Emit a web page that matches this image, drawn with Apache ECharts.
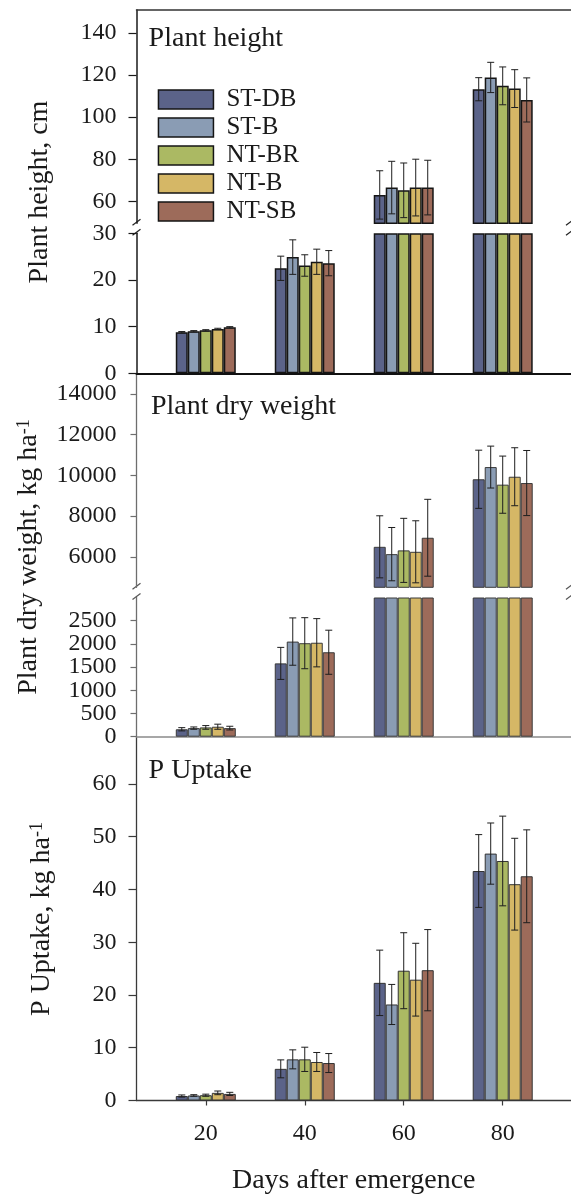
<!DOCTYPE html>
<html><head><meta charset="utf-8">
<script src="https://cdn.jsdelivr.net/npm/echarts@6.0.0/dist/echarts.min.js"></script>
<style>html,body{margin:0;padding:0;background:#fff}#c{width:571px;height:1195px}</style>
</head><body><div id="c"></div>
<script>
// ---------------- data ----------------
const days = [20, 40, 60, 80];
const treatments = ['ST-DB', 'ST-B', 'NT-BR', 'NT-B', 'NT-SB'];
const colors = ['#5b6389', '#8a9cb4', '#abb963', '#d5b766', '#9d6b5a'];

// Plant height, cm (rows: treatments, cols: days)
const heightMean = [
  [8.8, 22.5, 63.0, 113.3],
  [9.0, 24.9, 66.5, 118.9],
  [9.2, 23.1, 65.2, 114.9],
  [9.5, 23.9, 66.5, 113.6],
  [9.85, 23.6, 66.5, 108.2]
];
const heightErr = [
  [0.15, 2.6, 11.5, 5.5],
  [0.15, 3.7, 12.5, 7.2],
  [0.15, 2.3, 13.0, 9.0],
  [0.15, 2.7, 13.5, 9.0],
  [0.15, 2.7, 13.0, 10.5]
];
// Plant dry weight, kg/ha
const weightMean = [
  [160, 1580, 6490, 9810],
  [185, 2050, 6130, 10410],
  [200, 2015, 6315, 9545],
  [215, 2025, 6245, 9935],
  [185, 1820, 6935, 9625]
];
const weightErr = [
  [35, 345, 1525, 1430],
  [25, 510, 1310, 1030],
  [40, 550, 1575, 1405],
  [55, 520, 1525, 1425],
  [40, 475, 1890, 1600]
];
// P uptake, kg/ha
const uptakeMean = [
  [0.85, 6.0, 22.3, 43.5],
  [0.95, 7.8, 18.2, 46.8],
  [1.0, 7.8, 24.6, 45.4],
  [1.45, 7.3, 22.9, 41.0],
  [1.25, 7.1, 24.7, 42.5]
];
const uptakeErr = [
  [0.2, 1.7, 6.2, 6.9],
  [0.15, 1.8, 3.8, 5.8],
  [0.2, 2.3, 7.2, 8.5],
  [0.35, 1.8, 6.9, 8.7],
  [0.3, 1.8, 7.7, 8.8]
];

// tick labels
const heightUpperTicks = [60, 80, 100, 120, 140];
const heightLowerTicks = [0, 10, 20, 30];
const weightUpperTicks = [6000, 8000, 10000, 12000, 14000];
const weightLowerTicks = [0, 500, 1000, 1500, 2000, 2500];
const uptakeTicks = [0, 10, 20, 30, 40, 50, 60];
const dayTicks = [20, 40, 60, 80];

const panelTitles = ['Plant height', 'Plant dry weight', 'P Uptake'];
const xName = 'Days after emergence';

// ---------------- layout / style ----------------
const FONT = '"Liberation Serif", "Times New Roman", serif';
const INK = '#1a1a1a';
const L = 136.5, W = 434.5;
const BAR_W = 12;
const TICK_FS = 24;

const segments = [
  {top: 10,    h: 213.3, yMin: 49.5, yMax: 151,   role: 'upper', split: 30,   mean: heightMean, err: heightErr, ticks: heightUpperTicks, xPos: 'top',    xLine: {show: true, color: '#333', width: 1.5}, axis: '#1a1a1a', axisW: 1.5, tickLen: 8, border: '#151515', borderW: 1.5},
  {top: 233.3, h: 140,   yMin: 0,    yMax: 30,    role: 'lower',              mean: heightMean, err: heightErr, ticks: heightLowerTicks, xPos: 'bottom', xLine: {show: true, color: '#111', width: 2},   axis: '#1a1a1a', axisW: 1.5, tickLen: 8, border: '#151515', borderW: 1.5},
  {top: 373.7, h: 213.6, yMin: 4500, yMax: 15000, role: 'upper', split: 3000, mean: weightMean, err: weightErr, ticks: weightUpperTicks, xPos: 'top',    xLine: {show: false},                          axis: '#6e6e6e', axisW: 1.3, tickLen: 6, border: '#3a3a3a', borderW: 1},
  {top: 597.5, h: 139.2, yMin: 0,    yMax: 3000,  role: 'lower',              mean: weightMean, err: weightErr, ticks: weightLowerTicks, xPos: 'bottom', xLine: {show: true, color: '#8a8a8a', width: 1.5}, axis: '#6e6e6e', axisW: 1.3, tickLen: 6, border: '#3a3a3a', borderW: 1, dense: true},
  {top: 737,   h: 363.5, yMin: 0,    yMax: 68.9,  role: 'full',               mean: uptakeMean, err: uptakeErr, ticks: uptakeTicks,      xPos: 'bottom', xLine: {show: true, color: '#3a3a3a', width: 1.3}, axis: '#3a3a3a', axisW: 1.3, tickLen: 8, border: '#333', borderW: 1}
];

const plain = v => String(v);
const labelBase = {show: true, formatter: plain, margin: 20, color: INK, fontFamily: FONT, fontSize: TICK_FS,
  hideOverlap: false, showMinLabel: true, showMaxLabel: true, interval: 0};
const grids = [], xAxes = [], yAxes = [], extraY = [], series = [];

segments.forEach((s, g) => {
  grids.push({left: L, top: s.top, width: W, height: s.h, containLabel: false, outerBoundsMode: 'none'});
  const isLast = g === segments.length - 1;
  xAxes.push({
    gridIndex: g, type: 'value', min: 6, max: 93.8, position: s.xPos,
    splitLine: {show: false},
    axisLine: {show: s.xLine.show, onZero: false, lineStyle: {color: s.xLine.color, width: s.xLine.width}},
    axisTick: isLast ? {show: true, inside: false, length: 5, customValues: dayTicks, lineStyle: {color: '#3a3a3a', width: 1.2}} : {show: false},
    axisLabel: isLast ? Object.assign({}, labelBase, {customValues: dayTicks, margin: 21}) : {show: false},
    name: isLast ? xName : '',
    nameLocation: 'middle', nameGap: 66,
    nameTextStyle: {fontFamily: FONT, fontSize: 28, color: INK}
  });
  // dense tick labels are split over two coincident axes so none is dropped
  const mainLabels = s.dense ? s.ticks.filter((v, k) => k % 2 === 0) : s.ticks;
  yAxes.push({
    gridIndex: g, type: 'value', min: s.yMin, max: s.yMax, position: 'left',
    splitLine: {show: false},
    axisLine: {show: true, onZero: false, lineStyle: {color: s.axis, width: s.axisW}},
    axisTick: {show: true, inside: false, length: s.tickLen, customValues: s.ticks, lineStyle: {color: s.axis, width: 1.2}},
    axisLabel: Object.assign({}, labelBase, {customValues: mainLabels})
  });
  if (s.dense) {
    extraY.push({
      gridIndex: g, type: 'value', min: s.yMin, max: s.yMax, position: 'left', offset: 0,
      splitLine: {show: false}, axisLine: {show: false, onZero: false}, axisTick: {show: false},
      axisLabel: Object.assign({}, labelBase, {customValues: s.ticks.filter((v, k) => k % 2 === 1)})
    });
  }

  treatments.forEach((name, i) => {
    let data;
    if (s.role === 'lower') data = days.map((d, j) => [d, Math.min(s.mean[i][j], s.yMax)]);
    else if (s.role === 'upper') data = days.map((d, j) => [d, s.mean[i][j]]).filter(p => p[1] > s.split);
    else data = days.map((d, j) => [d, s.mean[i][j]]);
    series.push({
      type: 'bar', name, xAxisIndex: g, yAxisIndex: g,
      barWidth: BAR_W, barGap: '0%', clip: true,
      itemStyle: {color: colors[i], borderColor: s.border, borderWidth: s.borderW},
      emphasis: {disabled: true},
      data, z: 2
    });
  });

  // error bars
  const errData = [];
  treatments.forEach((name, i) => {
    days.forEach((d, j) => {
      const m = s.mean[i][j];
      const keep = s.role === 'full' || (s.role === 'upper' ? m > s.split : m <= s.yMax);
      if (keep) errData.push([d, m, s.err[i][j], i]);
    });
  });
  series.push({
    type: 'custom', xAxisIndex: g, yAxisIndex: g, z: 5, silent: true,
    dimensions: ['x', 'y', 'e', 'k'], encode: {x: 0, y: 1},
    data: errData,
    renderItem: function (params, api) {
      const x = api.value(0), m = api.value(1), e = api.value(2), k = api.value(3);
      const cx = api.coord([x, m])[0] + (k - 2) * BAR_W;
      const top = api.coord([x, m + e])[1];
      const bot = api.coord([x, m - e])[1];
      const st = {stroke: '#1e1e1e', lineWidth: 1};
      return {type: 'group', children: [
        {type: 'line', shape: {x1: cx, y1: top, x2: cx, y2: bot}, style: st},
        {type: 'line', shape: {x1: cx - 3.5, y1: top, x2: cx + 3.5, y2: top}, style: st},
        {type: 'line', shape: {x1: cx - 3.5, y1: bot, x2: cx + 3.5, y2: bot}, style: st}
      ]};
    }
  });
});

// break marks on axes (between upper and lower segments)
const graphics = [];
[[0, 1, '#222'], [2, 3, '#555']].forEach(([u, l, col]) => {
  const yA = segments[u].top + segments[u].h;
  const yB = segments[l].top;
  [L, L + W - 1].forEach(x => {
    [yA - 1, yB - 1].forEach(y => {
      graphics.push({type: 'line', silent: true, shape: {x1: x - 4, y1: y + 3, x2: x + 4, y2: y - 3}, style: {stroke: col, lineWidth: 1.2}});
    });
  });
});

// rotated axis names
const NAME_FONT = '28px ' + FONT;
const supRich = {sup: {fontSize: 18, fontFamily: FONT, verticalAlign: 'top', fill: INK}};
graphics.push(
  {type: 'text', x: 40, y: 192, rotation: Math.PI / 2, silent: true,
   style: {text: 'Plant height, cm', font: NAME_FONT, fill: INK, align: 'center', verticalAlign: 'middle'}},
  {type: 'text', x: 29, y: 557, rotation: Math.PI / 2, silent: true,
   style: {text: 'Plant dry weight, kg ha{sup|-1}', font: NAME_FONT, fill: INK, align: 'center', verticalAlign: 'middle', rich: supRich}},
  {type: 'text', x: 42, y: 919, rotation: Math.PI / 2, silent: true,
   style: {text: 'P Uptake, kg ha{sup|-1}', font: NAME_FONT, fill: INK, align: 'center', verticalAlign: 'middle', rich: supRich}}
);

const titleStyle = {fontFamily: FONT, fontSize: 28, fontWeight: 'normal', color: INK};
const option = {
  backgroundColor: '#fff',
  animation: false,
  title: [
    {text: panelTitles[0], left: 148.6, top: 24.3, padding: 0, textStyle: titleStyle},
    {text: panelTitles[1], left: 151, top: 392.6, padding: 0, textStyle: titleStyle},
    {text: panelTitles[2], left: 148.6, top: 756.6, padding: 0, textStyle: titleStyle}
  ],
  legend: {
    data: treatments, orient: 'vertical', left: 157.7, top: 87, padding: 0,
    itemWidth: 55, itemHeight: 19, itemGap: 3, icon: 'rect', selectedMode: false,
    itemStyle: {borderColor: '#151515', borderWidth: 1.5},
    textStyle: {fontFamily: FONT, fontSize: 25, color: INK, lineHeight: 19, padding: [0, 0, 0, 8]}
  },
  grid: grids, xAxis: xAxes, yAxis: yAxes.concat(extraY), series,
  graphic: graphics
};

const chart = echarts.init(document.getElementById('c'), null, {renderer: 'canvas'});
chart.setOption(option);
</script></body></html>
